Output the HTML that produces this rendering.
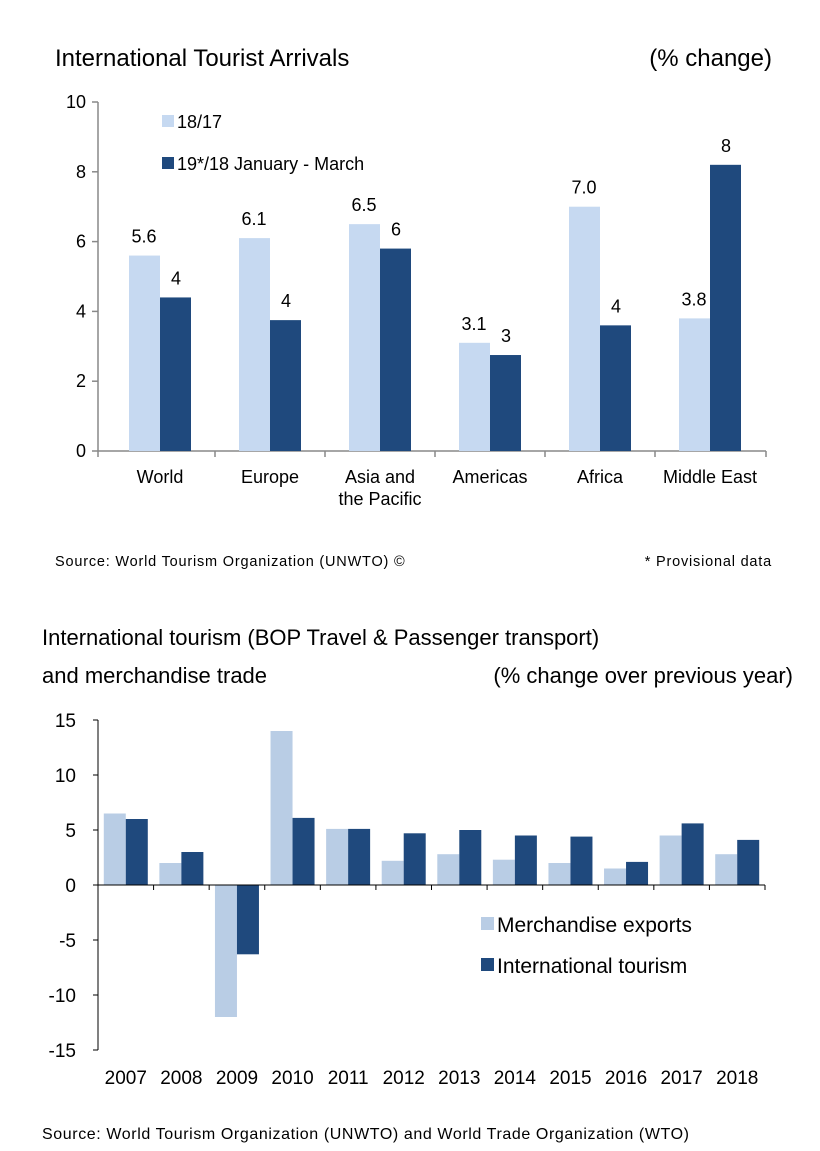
<!DOCTYPE html>
<html><head><meta charset="utf-8">
<style>
html,body{margin:0;padding:0;background:#fff;}
body{width:820px;height:1146px;overflow:hidden;font-family:"Liberation Sans",Arial,sans-serif;}
svg text{font-family:"Liberation Sans",Arial,sans-serif;fill:#000;}
</style></head>
<body>
<svg id="chart" width="820" height="1146">
<g id="top"></g>
<g id="bot"></g>
</svg>
<script>
const topCats = ["World","Europe","Asia and|the Pacific","Americas","Africa","Middle East"];
const topA = [5.6,6.1,6.5,3.1,7.0,3.8];
const topB = [4.4,3.75,5.8,2.75,3.6,8.2];
const topALabels = ["5.6","6.1","6.5","3.1","7.0","3.8"];
const topBLabels = ["4","4","6","3","4","8"];
const topTicks = [0,2,4,6,8,10];
const botCats = ["2007","2008","2009","2010","2011","2012","2013","2014","2015","2016","2017","2018"];
const botA = [6.5,2,-12,14,5.1,2.2,2.8,2.3,2,1.5,4.5,2.8];
const botB = [6,3,-6.3,6.1,5.1,4.7,5,4.5,4.4,2.1,5.6,4.1];
const botTicks = [-15,-10,-5,0,5,10,15];

const NS="http://www.w3.org/2000/svg";
function mk(parent,tag,attrs,txt){const e=document.createElementNS(NS,tag);for(const k in attrs)e.setAttribute(k,attrs[k]);if(txt!==undefined)e.textContent=txt;parent.appendChild(e);return e;}

// TOP chart
const T=document.getElementById('top');
const tx0=98,tx1=766,ty=v=>451-v*34.9;
const tcx=i=>160+i*110;
let e;
e=mk(T,'text',{x:55,y:66,'font-size':24},'International Tourist Arrivals');

e=mk(T,'text',{x:772,y:66,'font-size':24,'text-anchor':'end'},'(% change)');

e=mk(T,'line',{x1:tx0,y1:ty(10),x2:tx0,y2:ty(0),stroke:'#888','stroke-width':1.5});

e=mk(T,'line',{x1:tx0,y1:ty(0),x2:tx1,y2:ty(0),stroke:'#888','stroke-width':1.5});

topTicks.forEach(t=>{
 e=mk(T,'line',{x1:tx0-6,y1:ty(t),x2:tx0,y2:ty(t),stroke:'#888','stroke-width':1.5});
 
 e=mk(T,'text',{x:tx0-12,y:ty(t)+6,'font-size':18,'text-anchor':'end'},t);
 
});
for(let i=0;i<=topCats.length;i++){
 const xx=i===0?tx0:(i===topCats.length?tx1:tcx(i)-55);
 e=mk(T,'line',{x1:xx,y1:ty(0),x2:xx,y2:ty(0)+6,stroke:'#888','stroke-width':1.5});
 
}
topCats.forEach((c,i)=>{
 const cx=tcx(i);
 e=mk(T,'rect',{x:cx-31,y:ty(topA[i]),width:31,height:ty(0)-ty(topA[i]),fill:'#c6d9f1'});
 
 e=mk(T,'rect',{x:cx,y:ty(topB[i]),width:31,height:ty(0)-ty(topB[i]),fill:'#1f497d'});
 
 e=mk(T,'text',{x:cx-16,y:ty(topA[i])-13,'font-size':18,'text-anchor':'middle'},topALabels[i]);
 
 e=mk(T,'text',{x:cx+16,y:ty(topB[i])-13,'font-size':18,'text-anchor':'middle'},topBLabels[i]);
 
 c.split('|').forEach((ln,j)=>{
  e=mk(T,'text',{x:cx,y:483+j*22,'font-size':18,'text-anchor':'middle'},ln);
  
 });
});
e=mk(T,'rect',{x:162,y:115,width:12,height:12,fill:'#c6d9f1'});

e=mk(T,'text',{x:177,y:128,'font-size':18},'18/17');

e=mk(T,'rect',{x:162,y:157,width:12,height:12,fill:'#1f497d'});

e=mk(T,'text',{x:177,y:170,'font-size':18},'19*/18 January - March');

e=mk(T,'text',{x:55,y:566,'font-size':14.5,'letter-spacing':0.8},'Source: World Tourism Organization (UNWTO) ©');

e=mk(T,'text',{x:772,y:566,'font-size':14.5,'letter-spacing':0.8,'text-anchor':'end'},'* Provisional data');


// BOTTOM chart
const B=document.getElementById('bot');
const bx0=98,bx1=765,by=v=>885-v*11;
const bw=(bx1-bx0)/botCats.length;
e=mk(B,'text',{x:42,y:645,'font-size':22},'International tourism (BOP Travel & Passenger transport)');

e=mk(B,'text',{x:42,y:683,'font-size':22},'and merchandise trade');

e=mk(B,'text',{x:793,y:683,'font-size':22,'text-anchor':'end'},'(% change over previous year)');

e=mk(B,'line',{x1:bx0,y1:by(15),x2:bx0,y2:by(-15),stroke:'#000','stroke-width':1});

botTicks.forEach(t=>{
 e=mk(B,'line',{x1:bx0-5,y1:by(t),x2:bx0,y2:by(t),stroke:'#000','stroke-width':1});
 
 e=mk(B,'text',{x:bx0-22,y:by(t)+7,'font-size':19,'text-anchor':'end'},t);
 
});
botCats.forEach((c,i)=>{
 const cx=bx0+bw*(i+0.5);
 const a=botA[i],b=botB[i];
 e=mk(B,'rect',{x:cx-22,y:Math.min(by(a),by(0)),width:22,height:Math.abs(by(a)-by(0)),fill:'#b9cde5'});
 
 e=mk(B,'rect',{x:cx,y:Math.min(by(b),by(0)),width:22,height:Math.abs(by(b)-by(0)),fill:'#1f497d'});
 
 e=mk(B,'text',{x:cx,y:1084,'font-size':19,'text-anchor':'middle'},c);
 
});
e=mk(B,'line',{x1:bx0,y1:by(0),x2:bx1,y2:by(0),stroke:'#000','stroke-width':1});

for(let i=0;i<=botCats.length;i++){
 e=mk(B,'line',{x1:bx0+i*bw,y1:by(0),x2:bx0+i*bw,y2:by(0)+5,stroke:'#000','stroke-width':1});
 
}
e=mk(B,'rect',{x:481,y:917,width:13,height:13,fill:'#b9cde5'});

e=mk(B,'text',{x:497,y:932,'font-size':21},'Merchandise exports');

e=mk(B,'rect',{x:481,y:958,width:13,height:13,fill:'#1f497d'});

e=mk(B,'text',{x:497,y:973,'font-size':21},'International tourism');

e=mk(B,'text',{x:42,y:1139,'font-size':16,'letter-spacing':0.6},'Source: World Tourism Organization (UNWTO) and World Trade Organization (WTO)');

</script>
</body></html>
